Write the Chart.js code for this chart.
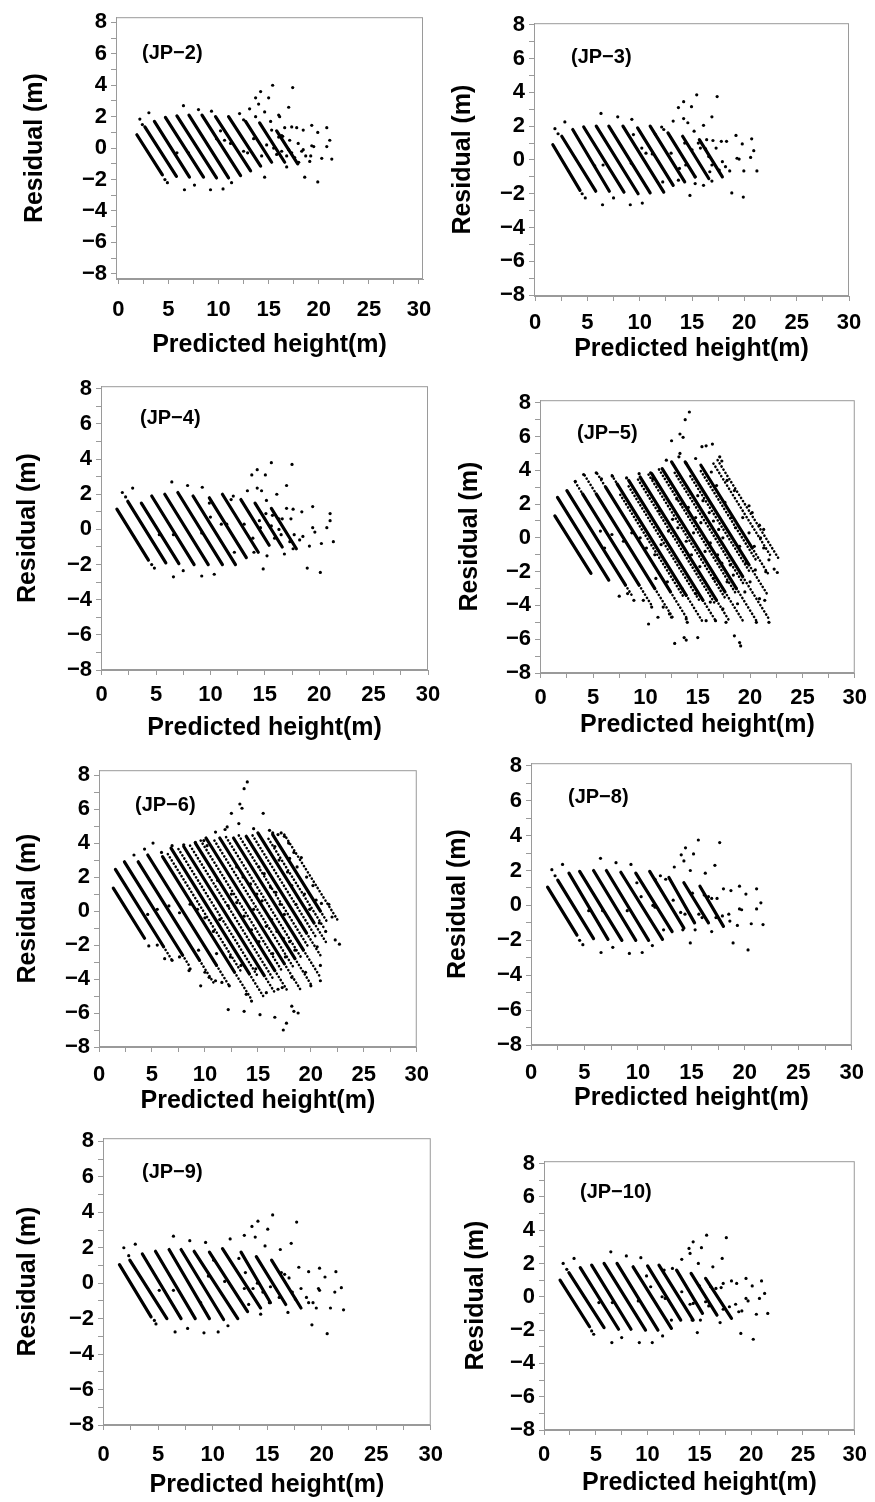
<!DOCTYPE html>
<html><head><meta charset="utf-8">
<script src="https://cdn.jsdelivr.net/npm/chart.js@4.4.1/dist/chart.umd.min.js"></script>
<style>
html,body{margin:0;padding:0;background:#fff;width:875px;height:1502px;overflow:hidden;}
canvas{position:absolute;}
</style></head><body>
<script>
// ---------- labels / ticks ----------
const PANEL_NAMES = ['(JP\u22122)','(JP\u22123)','(JP\u22124)','(JP\u22125)','(JP\u22126)','(JP\u22128)','(JP\u22129)','(JP\u221210)'];
const X_TICKS = [0,2.5,5,7.5,10,12.5,15,17.5,20,22.5,25,27.5,30];
const Y_TICKS = [-8,-7,-6,-5,-4,-3,-2,-1,0,1,2,3,4,5,6,7,8];
const X_TITLE = 'Predicted height(m)';
const Y_TITLE = 'Residual (m)';

// ---------- data: stripes [x1,y1,x2,y2], dotted stripes, single points [x,y] ----------
const JP2_STRIPES = [[1.85,0.85,4.4,-1.7],[2.65,1.35,5.8,-1.8],[3.6,1.7,7.1,-1.85],[4.7,1.95,8.5,-1.85],[5.85,2.05,9.8,-1.9],[7.05,2.1,11.0,-1.9],[8.35,2.1,12.2,-1.75],[9.7,2.0,13.2,-1.45],[11.0,2.0,14.2,-1.15],[12.7,1.7,15.3,-0.9],[14.1,1.6,16.6,-0.9],[15.8,1.1,17.9,-1.0]];
const JP2_DOTTED = [];
const JP2_POINTS = [[4.65,-2.0],[4.9,-2.2],[2.15,1.85],[2.4,1.5],[3.05,2.25],[6.5,2.7],[8.0,2.45],[9.3,2.35],[12.1,2.2],[13.1,2.5],[13.7,3.2],[13.7,2.0],[14.0,2.8],[14.2,3.6],[15.0,3.2],[15.4,4.0],[14.6,2.3],[16.0,2.1],[16.1,2.0],[17.0,2.6],[17.4,3.85],[12.5,1.8],[15.2,1.7],[19.3,1.45],[20.8,1.3],[16.6,1.3],[17.3,1.35],[17.8,1.3],[18.45,1.15],[19.9,1.0],[21.1,0.5],[20.8,0.1],[19.3,0.15],[19.5,0.1],[18.45,-0.1],[19.1,-0.85],[20.3,-0.65],[21.3,-0.7],[18.6,-1.85],[19.9,-2.15],[14.6,-1.85],[16.8,-1.2],[6.6,-2.65],[7.6,-2.35],[9.2,-2.65],[10.45,-2.6],[11.3,-2.2],[5.85,-0.3],[7.0,-0.3],[9.8,0.6],[10.6,0.5],[10.2,1.1],[15.3,1.15],[16.3,0.8],[17.1,0.5],[17.95,0.3],[18.3,-0.2],[17.3,-0.3],[16.3,-0.2],[15.8,-0.4],[17.6,-0.6],[16.8,-0.5],[15.5,0.0],[14.8,0.2],[13.5,0.6],[12.9,-0.3],[14.3,-0.5],[16.0,0.7],[16.4,0.75],[17.0,-0.1],[18.0,-0.9],[18.7,-0.5],[19.2,-0.5],[11.2,0.3],[12.5,-0.2]];

const JP3_STRIPES = [[1.7,0.9,4.3,-1.8],[2.55,1.4,5.8,-1.85],[3.6,1.8,7.1,-1.85],[4.65,1.95,8.5,-1.9],[5.85,2.0,9.85,-2.0],[7.05,2.0,11.0,-1.95],[8.4,2.0,12.3,-1.9],[9.8,1.9,13.2,-1.5],[11.0,2.0,14.3,-1.3],[12.7,1.6,15.3,-1.0],[14.1,1.4,16.6,-1.1],[15.7,1.2,17.9,-1.0]];
const JP3_DOTTED = [];
const JP3_POINTS = [[15.45,3.85],[17.4,3.75],[14.2,3.45],[13.7,3.1],[14.95,3.15],[6.3,2.75],[7.9,2.55],[9.25,2.4],[2.85,2.25],[16.9,2.55],[13.2,2.3],[14.2,2.45],[14.6,2.2],[16.1,2.05],[12.1,1.95],[19.2,1.45],[20.7,1.25],[19.8,0.95],[15.6,1.0],[16.4,1.2],[17.0,1.15],[17.8,1.1],[18.3,1.1],[20.6,0.15],[20.9,0.55],[19.3,0.1],[19.5,0.05],[19.95,-0.65],[21.2,-0.65],[18.6,-0.65],[14.8,-2.1],[18.8,-1.95],[19.9,-2.2],[16.1,-1.5],[16.9,-1.25],[16.7,-0.7],[15.3,-1.0],[6.45,-2.65],[9.1,-2.65],[10.25,-2.55],[7.5,-2.25],[4.5,-2.0],[4.8,-2.25],[1.9,1.85],[2.2,1.55],[5.7,-0.35],[6.5,-0.3],[9.2,-0.2],[10.2,0.7],[10.6,0.4],[11.2,0.35],[13.0,0.4],[13.8,-0.5],[14.4,-0.3],[15.0,0.6],[15.8,0.7],[16.3,0.65],[17.3,0.7],[17.9,-0.1],[17.6,-0.6],[16.6,0.2],[16.9,-0.3],[18.2,-0.4],[12.2,-1.3],[13.7,-1.2],[15.3,-1.4],[11.5,1.5],[12.3,1.8],[9.4,1.5],[14.3,1.0],[15.2,1.7]];

const JP4_STRIPES = [[1.4,1.15,4.3,-1.75],[2.4,1.6,5.9,-1.9],[3.65,1.5,7.1,-1.95],[4.6,1.9,8.5,-2.0],[5.8,2.0,9.8,-2.0],[7.0,2.1,11.1,-2.0],[8.4,1.9,12.3,-2.0],[9.9,1.8,13.3,-1.6],[11.1,2.0,14.4,-1.3],[12.8,1.7,15.4,-0.9],[14.1,1.5,16.6,-1.0],[15.6,1.2,17.9,-1.1]];
const JP4_DOTTED = [];
const JP4_POINTS = [[15.6,3.8],[17.5,3.7],[14.3,3.4],[13.8,3.1],[15.05,3.1],[6.45,2.7],[7.9,2.5],[9.25,2.4],[2.85,2.35],[17.0,2.5],[13.4,2.2],[14.3,2.35],[14.7,2.2],[16.1,2.0],[1.9,2.1],[2.2,1.85],[12.1,1.9],[15.15,1.65],[19.4,1.3],[21.0,0.9],[18.4,1.0],[17.0,1.2],[17.6,1.15],[21.0,0.5],[20.7,0.1],[19.4,0.1],[19.6,-0.15],[20.2,-0.8],[21.3,-0.7],[19.1,-0.95],[16.8,-1.4],[18.9,-2.2],[20.1,-2.45],[14.85,-2.25],[15.2,-1.5],[6.6,-2.7],[9.2,-2.65],[10.35,-2.55],[7.5,-2.35],[4.85,-2.2],[4.6,-2.0],[5.3,-0.3],[6.6,-0.3],[9.2,-0.2],[9.9,1.5],[10.0,0.7],[11.0,0.3],[11.5,0.3],[13.1,0.3],[13.9,-0.5],[14.6,0.1],[15.1,0.9],[15.7,0.8],[16.3,0.6],[16.6,0.6],[17.4,0.6],[17.7,-0.3],[18.2,-0.6],[17.3,-0.7],[16.5,-0.3],[18.5,-0.4],[15.9,-0.5],[12.2,-1.3],[14.0,-1.3],[17.6,-1.1],[16.3,0.0],[15.6,0.2],[11.9,1.7],[14.5,0.5]];

const JP5_STRIPES = [[1.35,1.3,4.8,-2.1],[1.6,2.4,6.5,-2.5],[2.5,2.8,8.1,-2.8],[4.0,2.6,9.4,-2.8],[5.3,2.6,10.9,-3.0],[6.2,3.0,12.4,-3.2],[7.3,3.2,13.9,-3.4],[8.4,3.4,15.5,-3.7],[9.5,3.6,16.8,-3.7],[10.6,3.8,17.6,-3.2],[11.6,4.1,18.7,-3.0],[12.5,4.5,19.3,-2.3],[13.8,4.5,19.9,-1.6],[15.3,4.3,20.2,-0.6]];
const JP5_DOTTED = [[8.1,-2.8,8.8,-3.5],[9.4,-2.8,10.6,-4.0],[10.9,-3.0,12.6,-4.7],[12.4,-3.2,14.0,-4.8],[13.9,-3.4,15.5,-5.0],[15.5,-3.7,16.8,-5.0],[16.8,-3.7,18.1,-5.0],[17.6,-3.2,19.3,-4.9],[18.7,-3.0,20.7,-5.0],[19.3,-2.3,21.8,-4.8],[19.9,-1.6,21.6,-3.3],[20.2,-0.6,21.8,-2.2],[3.3,3.3,4.0,2.6],[4.2,3.7,5.3,2.6],[5.4,3.8,6.2,3.0],[6.8,3.7,7.3,3.2],[16.5,4.4,21.9,-1.0],[16.9,4.6,22.7,-1.2],[7.6,2.55,13.6,-3.45],[8.4,3.05,15.2,-3.75],[9.3,3.45,16.6,-3.85],[10.3,3.75,17.6,-3.55],[11.3,4.05,18.6,-3.25],[12.8,3.85,19.4,-2.75],[14.3,3.65,20.0,-2.05],[15.3,3.95,20.6,-1.35]];
const JP5_POINTS = [[14.2,7.45],[13.8,7.0],[13.3,6.15],[13.6,5.95],[12.5,5.75],[15.4,5.4],[15.8,5.45],[16.4,5.55],[13.3,5.0],[13.2,4.8],[13.9,4.4],[14.8,4.7],[17.1,4.8],[17.3,4.55],[3.3,3.35],[4.1,3.75],[5.3,3.85],[5.8,3.5],[6.85,3.65],[8.2,3.55],[9.4,3.8],[10.5,3.85],[10.7,3.5],[11.2,3.15],[12.0,4.6],[12.8,-6.25],[13.7,-5.9],[13.9,-6.05],[15.0,-5.9],[18.5,-5.8],[19.0,-6.2],[19.1,-6.4],[10.3,-5.1],[11.2,-4.7],[12.3,-4.5],[12.5,-4.7],[13.9,-4.8],[14.0,-5.0],[15.8,-4.9],[16.7,-4.9],[17.7,-5.0],[20.6,-5.0],[21.8,-5.0],[7.5,-3.45],[8.3,-3.3],[8.9,-3.7],[10.6,-4.1],[11.7,-4.1],[9.8,-3.7],[22.6,-2.05],[22.3,-1.85],[21.8,-1.3],[21.3,-0.6],[21.0,0.0],[21.3,0.5],[20.9,0.75],[20.2,1.5],[19.9,1.9],[21.5,-2.0],[20.5,-1.9],[19.6,-1.5],[13.0,2.3],[13.4,2.0],[14.1,1.8],[14.8,1.2],[15.3,0.9],[15.0,2.5],[15.5,2.2],[16.1,1.5],[16.5,1.0],[17.0,0.5],[17.4,0.0],[16.2,-0.3],[15.7,-0.8],[16.9,-1.0],[17.3,-1.5],[18.1,-1.6],[18.4,-2.2],[17.8,-2.6],[16.5,-2.4],[15.2,-1.7],[14.4,-1.0],[13.9,-0.2],[13.1,0.6],[12.2,0.4],[11.5,-0.4],[10.9,-1.0],[10.1,-0.6],[9.5,0.0],[8.7,0.3],[7.9,-0.2],[6.8,0.2],[5.7,0.4],[6.1,-0.6],[11.3,1.6],[12.6,1.1],[14.6,0.3],[18.6,0.6],[19.0,-0.5],[18.2,1.2],[17.6,2.1],[16.8,3.1],[16.3,3.9],[17.8,3.4],[18.5,2.8],[19.3,1.2],[19.9,0.3],[20.4,-0.5],[20.0,-2.6],[20.9,-3.6],[21.4,-3.7],[19.5,-3.2],[18.8,-3.9],[17.4,-4.2],[16.2,-3.8],[14.8,-3.3],[13.5,-3.0],[12.1,-2.6],[11.0,-2.4]];

const JP6_STRIPES = [[1.35,1.35,4.3,-1.6],[1.55,2.45,6.1,-2.1],[2.4,2.9,7.9,-2.6],[3.7,2.9,9.5,-2.9],[4.6,3.3,11.1,-3.2],[6.0,3.2,12.8,-3.6],[6.8,3.7,14.2,-3.7],[8.0,3.8,15.6,-3.8],[9.1,4.0,16.6,-3.5],[10.1,4.3,17.5,-3.1],[11.4,4.3,18.5,-2.8],[12.7,4.3,19.3,-2.3],[13.9,4.4,19.6,-1.3],[15.0,4.6,20.3,-0.7],[16.4,4.5,20.9,0.0]];
const JP6_DOTTED = [[6.1,-2.1,6.9,-2.9],[7.9,-2.6,8.6,-3.3],[9.5,-2.9,10.9,-4.3],[11.1,-3.2,12.3,-4.4],[12.8,-3.6,14.3,-5.1],[14.2,-3.7,15.5,-5.0],[15.6,-3.8,16.6,-4.8],[16.6,-3.5,17.8,-4.7],[17.5,-3.1,19.0,-4.6],[18.5,-2.8,20.0,-4.3],[19.3,-2.3,20.9,-3.9],[19.6,-1.3,21.0,-2.7],[20.3,-0.7,21.5,-1.9],[20.9,0.0,21.6,-0.7],[17.5,4.5,22.6,-0.6],[6.5,3.35,13.5,-3.65],[7.5,3.65,15.0,-3.85],[8.6,3.85,16.4,-3.95],[9.6,4.15,17.3,-3.55],[10.9,4.15,18.3,-3.25],[12.0,4.35,19.2,-2.85],[13.2,4.45,19.8,-2.15],[14.5,4.45,20.5,-1.55],[16.0,4.25,21.3,-1.05]];
const JP6_POINTS = [[14.0,7.6],[13.7,7.2],[13.3,6.3],[13.5,6.05],[12.5,5.75],[15.5,5.75],[13.2,5.15],[12.1,4.95],[14.6,4.85],[16.1,4.75],[16.4,4.6],[16.9,4.5],[17.2,4.6],[17.5,4.4],[4.3,3.65],[5.1,4.0],[5.9,3.45],[3.3,3.3],[6.9,3.85],[9.9,4.15],[10.2,3.85],[11.0,4.65],[11.9,4.8],[8.0,3.9],[9.1,4.05],[9.6,-4.4],[8.5,-3.5],[8.6,-3.4],[6.9,-2.9],[4.7,-2.05],[12.3,-4.4],[12.2,-5.8],[13.7,-5.9],[13.9,-4.9],[15.2,-6.1],[16.6,-6.25],[17.4,-7.0],[17.7,-6.6],[18.4,-5.9],[18.8,-6.0],[18.2,-5.6],[20.0,-4.4],[20.9,-4.1],[20.9,-3.2],[11.0,-4.1],[11.6,-4.2],[10.0,-3.6],[10.4,-3.9],[14.4,-5.3],[15.8,-4.8],[16.9,-4.6],[17.3,-4.5],[19.5,-3.6],[18.2,-3.9],[6.2,-2.8],[5.5,-2.0],[7.6,-2.7],[22.7,-1.95],[22.3,-1.7],[22.0,-0.35],[21.7,0.4],[21.0,0.45],[20.5,0.65],[20.2,1.5],[19.6,2.0],[19.1,3.15],[18.4,3.45],[17.9,4.0],[20.8,-0.7],[21.4,-1.2],[20.6,-2.1],[13.0,2.6],[13.6,2.0],[14.3,1.6],[14.9,1.0],[15.4,0.6],[15.1,2.6],[15.6,2.2],[16.2,1.4],[16.7,1.1],[17.1,0.4],[17.5,-0.2],[16.3,-0.5],[15.8,-0.9],[16.8,-1.2],[17.4,-1.6],[18.0,-1.8],[18.5,-2.3],[17.6,-2.7],[16.4,-2.5],[15.1,-1.8],[14.4,-1.1],[13.7,-0.3],[13.0,0.5],[12.2,0.3],[11.4,-0.5],[10.8,-1.2],[10.0,-0.4],[9.3,0.1],[8.6,0.4],[7.6,-0.1],[6.6,0.3],[5.5,0.1],[4.6,-0.2],[11.2,1.8],[12.5,1.0],[14.6,0.1],[18.6,0.4],[19.0,-0.7],[18.2,1.5],[17.8,2.3],[17.0,3.0],[16.6,3.8],[18.0,3.1],[18.7,2.6],[19.4,1.0],[19.9,0.1],[12.4,-2.7],[13.4,-3.2],[14.8,-3.4],[11.1,-2.5],[9.4,-2.3]];

const JP8_STRIPES = [[1.55,1.05,4.3,-1.7],[2.5,1.45,5.85,-1.9],[3.55,1.85,7.2,-1.95],[4.55,1.95,8.5,-2.0],[5.85,2.0,9.8,-2.0],[7.05,2.0,11.0,-2.0],[8.4,1.9,12.3,-1.95],[9.8,1.85,13.2,-1.5],[11.1,1.95,14.3,-1.3],[12.9,1.6,15.3,-1.0],[14.3,1.3,16.6,-1.0],[15.8,1.1,18.0,-1.2]];
const JP8_DOTTED = [];
const JP8_POINTS = [[15.65,3.75],[17.65,3.6],[14.45,3.3],[14.05,2.9],[15.2,2.95],[6.5,2.7],[7.95,2.45],[9.35,2.35],[2.95,2.35],[17.2,2.3],[13.4,2.2],[14.3,2.55],[16.3,1.85],[1.95,2.05],[2.25,1.7],[14.9,2.0],[12.6,1.5],[19.5,1.1],[18.0,0.95],[18.7,0.85],[21.1,0.95],[20.1,0.65],[21.5,0.15],[21.1,-0.2],[19.5,-0.2],[19.7,-0.25],[20.6,-1.05],[21.7,-1.1],[19.3,-1.15],[16.9,-1.5],[18.9,-2.15],[20.3,-2.55],[14.9,-2.15],[15.35,-1.4],[6.55,-2.7],[9.2,-2.75],[10.4,-2.7],[7.65,-2.4],[11.35,-2.3],[4.55,-2.0],[4.85,-2.25],[5.4,-0.3],[6.7,-0.3],[9.0,-0.3],[9.9,1.3],[10.3,0.5],[11.4,0.0],[11.6,-0.1],[13.3,0.3],[14.0,-0.4],[14.4,-0.5],[15.1,0.7],[16.2,0.6],[16.6,0.5],[16.9,0.4],[17.4,0.4],[17.3,-0.7],[17.9,-0.6],[18.5,-0.5],[18.6,-0.9],[16.0,-0.7],[12.4,-1.4],[14.2,-1.4],[15.7,-0.5],[11.6,1.5],[12.1,1.7]];

const JP9_STRIPES = [[1.45,1.05,4.35,-1.9],[2.4,1.3,5.8,-2.0],[3.55,1.65,7.1,-2.0],[4.75,1.8,8.4,-2.0],[6.0,1.9,9.7,-2.0],[7.1,1.9,11.0,-2.05],[8.3,1.8,12.3,-2.0],[9.7,1.75,13.2,-1.6],[10.9,1.95,14.4,-1.4],[12.6,1.75,15.3,-1.1],[14.0,1.5,16.7,-1.2],[15.4,1.3,18.1,-1.4]];
const JP9_DOTTED = [];
const JP9_POINTS = [[15.5,3.85],[17.7,3.45],[14.15,3.5],[13.6,3.2],[15.05,3.05],[6.4,2.65],[7.9,2.4],[9.35,2.3],[2.9,2.2],[12.9,2.7],[11.6,2.5],[13.9,2.6],[17.2,2.25],[1.85,2.0],[2.3,1.55],[14.8,2.1],[16.2,1.9],[12.4,1.4],[17.9,0.9],[18.8,0.65],[19.8,0.85],[21.3,0.65],[20.3,0.35],[19.7,-0.3],[19.8,-0.4],[21.8,-0.25],[21.2,-0.5],[22.0,-1.5],[20.8,-1.4],[19.5,-1.4],[19.1,-2.35],[20.5,-2.85],[14.4,-1.75],[16.9,-1.65],[15.2,-1.1],[6.55,-2.75],[9.2,-2.8],[10.5,-2.75],[7.7,-2.55],[11.4,-2.4],[4.65,-2.1],[4.8,-2.3],[5.1,-0.4],[6.4,-0.4],[8.9,-1.1],[9.6,0.4],[10.1,1.3],[11.1,0.1],[13.0,0.6],[13.7,-0.3],[14.1,0.0],[14.6,-0.5],[15.3,-0.2],[16.3,0.6],[16.6,0.5],[17.0,0.3],[17.3,-0.5],[17.6,-0.9],[18.6,-0.8],[18.8,-1.1],[19.2,-1.1],[18.1,-0.3],[16.1,-0.8],[13.3,-1.2],[12.9,-0.3]];

const JP10_STRIPES = [[1.55,1.0,4.4,-1.8],[2.4,1.45,5.8,-1.85],[3.5,1.75,7.2,-1.95],[4.6,1.9,8.4,-1.95],[5.8,2.0,9.8,-2.0],[7.05,2.0,11.0,-2.0],[8.6,1.8,12.3,-1.9],[10.0,1.85,13.2,-1.4],[11.1,1.9,14.4,-1.4],[12.8,1.6,15.3,-1.0],[14.2,1.4,16.7,-1.1],[15.6,1.1,18.1,-1.3]];
const JP10_DOTTED = [];
const JP10_POINTS = [[15.7,3.7],[17.6,3.55],[14.4,3.3],[14.0,2.9],[15.2,2.95],[6.45,2.7],[7.95,2.45],[9.35,2.35],[2.9,2.3],[13.3,2.25],[17.2,2.3],[14.1,2.6],[1.85,2.0],[2.2,1.65],[16.3,1.8],[12.4,1.7],[14.9,2.0],[19.5,1.1],[21.0,0.95],[18.1,0.95],[18.6,0.8],[20.1,0.65],[21.3,0.2],[20.8,-0.1],[19.5,-0.1],[19.7,-0.25],[20.5,-1.05],[21.6,-1.0],[19.1,-0.85],[17.0,-1.55],[19.0,-2.2],[20.2,-2.55],[14.8,-2.15],[15.1,-1.4],[6.55,-2.75],[9.2,-2.75],[10.45,-2.75],[7.5,-2.45],[11.45,-2.35],[4.6,-2.05],[4.8,-2.25],[5.3,-0.35],[6.6,-0.35],[9.1,-0.25],[9.9,1.25],[10.3,0.6],[11.4,0.0],[11.7,-0.1],[13.3,0.3],[14.1,-0.45],[14.4,-0.4],[15.0,0.65],[16.1,0.6],[16.6,0.5],[17.1,0.55],[17.3,0.8],[17.3,-0.75],[17.9,-0.6],[18.5,-0.45],[18.8,-0.9],[15.9,-0.55],[12.3,-1.4],[14.3,-1.4],[15.6,-0.3],[11.6,1.6]];

const PANEL_DATA = [
  [JP2_STRIPES, JP2_DOTTED, JP2_POINTS],
  [JP3_STRIPES, JP3_DOTTED, JP3_POINTS],
  [JP4_STRIPES, JP4_DOTTED, JP4_POINTS],
  [JP5_STRIPES, JP5_DOTTED, JP5_POINTS],
  [JP6_STRIPES, JP6_DOTTED, JP6_POINTS],
  [JP8_STRIPES, JP8_DOTTED, JP8_POINTS],
  [JP9_STRIPES, JP9_DOTTED, JP9_POINTS],
  [JP10_STRIPES, JP10_DOTTED, JP10_POINTS]
];

// ---------- layout (page positions of each plot box) ----------
const LAYOUT = [
  {box:[116,14,423,279],   resX:35,  xTitleY:345,  tickPad:13, lab:[26,36], xr:[-0.23,30.4], yr:[-8.33,8.33]},
  {box:[534,20,849,296],   resX:463, xTitleY:349,  tickPad:9,  lab:[37,34], xr:[-0.1,30],    yr:[-8.05,8.09]},
  {box:[101,383,428,670],  resX:28,  xTitleY:728,  tickPad:7,  lab:[39,32], xr:[-0.06,30],   yr:[-8,8.15]},
  {box:[540,397,856,673],  resX:470, xTitleY:725,  tickPad:7,  lab:[37,33], xr:[-0.07,30],   yr:[-8,8.15]},
  {box:[99,767,417,1047],  resX:28,  xTitleY:1101, tickPad:10, lab:[36,35], xr:[0,30],       yr:[-8,8.29]},
  {box:[531,760,855,1045], resX:458, xTitleY:1098, tickPad:10, lab:[37,34], xr:[0,30],       yr:[-8,8.15]},
  {box:[103,1135,433,1425],resX:28,  xTitleY:1485, tickPad:12, lab:[39,34], xr:[-0.06,30],   yr:[-8,8.18]},
  {box:[544,1158,855,1430],resX:476, xTitleY:1483, tickPad:7,  lab:[36,31], xr:[0,30],       yr:[-8,8.14]}
];

const FAMILY = '"Liberation Sans", Arial, Helvetica, sans-serif';
const AXIS_GREY = '#9a9a9a';

const framePlugin = {
  id: 'frame',
  beforeDatasetsDraw(chart) {
    const {ctx, chartArea: a} = chart;
    ctx.save();
    ctx.strokeStyle = AXIS_GREY;
    ctx.lineWidth = 1;
    ctx.strokeRect(a.left + 0.5, a.top + 0.5, a.right - a.left - 1, a.bottom - a.top - 1);
    ctx.restore();
  }
};
const panelLabelPlugin = {
  id: 'panelLabel',
  afterDraw(chart, args, opts) {
    const {ctx, chartArea: a} = chart;
    ctx.save();
    ctx.font = 'bold 20px ' + FAMILY;
    ctx.fillStyle = '#000';
    ctx.textAlign = 'left';
    ctx.textBaseline = 'middle';
    ctx.fillText(opts.text, a.left + opts.dx, a.top + opts.dy);
    ctx.restore();
  }
};

function buildDatasets(stripes, dotted, points) {
  const ds = [];
  dotted.forEach(s => ds.push({
    data: [{x: s[0], y: s[1]}, {x: s[2], y: s[3]}],
    showLine: true, borderColor: '#000', borderWidth: 2.6,
    borderDash: [0.1, 3.6], borderCapStyle: 'round',
    pointRadius: 0, fill: false
  }));
  stripes.forEach(s => ds.push({
    data: [{x: s[0], y: s[1]}, {x: s[2], y: s[3]}],
    showLine: true, borderColor: '#000', borderWidth: 3.2,
    borderCapStyle: 'round', pointRadius: 0, fill: false
  }));
  ds.push({
    data: points.map(p => ({x: p[0], y: p[1]})),
    showLine: false, pointRadius: 1.6, pointBorderWidth: 0,
    pointBackgroundColor: '#000', borderColor: '#000', backgroundColor: '#000'
  });
  return ds;
}

LAYOUT.forEach((L, i) => {
  const [bl, bt, br, bb] = L.box;
  const cl = L.resX - 15;
  const ct = bt - 14;
  const padR = Math.min(22, 874 - br);
  const cr = br + padR;
  const cb = L.xTitleY + 15;
  const cv = document.createElement('canvas');
  cv.width = cr - cl; cv.height = cb - ct;
  cv.style.left = cl + 'px'; cv.style.top = ct + 'px';
  cv.style.width = (cr - cl) + 'px'; cv.style.height = (cb - ct) + 'px';
  document.body.appendChild(cv);
  const [stripes, dotted, points] = PANEL_DATA[i];
  new Chart(cv, {
    type: 'scatter',
    data: {datasets: buildDatasets(stripes, dotted, points)},
    options: {
      responsive: false, animation: false, devicePixelRatio: 1,
      layout: {padding: {top: bt - ct, right: padR, left: 0, bottom: 0}},
      plugins: {
        legend: {display: false}, tooltip: {enabled: false},
        panelLabel: {text: PANEL_NAMES[i], dx: L.lab[0], dy: L.lab[1]}
      },
      scales: {
        x: {
          type: 'linear', min: L.xr[0], max: L.xr[1],
          afterBuildTicks: ax => { ax.ticks = X_TICKS.map(v => ({value: v})); },
          afterFit: s => { s.height = cb - bb; },
          ticks: {
            autoSkip: false, maxRotation: 0, padding: L.tickPad, color: '#000',
            font: {family: FAMILY, size: 22, weight: 'bold'},
            callback: v => (v % 5 === 0 ? String(v) : '')
          },
          grid: {display: true, drawOnChartArea: false, drawTicks: true, tickLength: 5, color: AXIS_GREY},
          border: {display: true, color: AXIS_GREY, width: 1},
          title: {display: true, text: X_TITLE, color: '#000', padding: 0,
                  font: {family: FAMILY, size: 25, weight: 'bold'}}
        },
        y: {
          type: 'linear', min: L.yr[0], max: L.yr[1],
          afterBuildTicks: ax => { ax.ticks = Y_TICKS.map(v => ({value: v})); },
          afterFit: s => { s.width = bl - cl; },
          ticks: {
            autoSkip: false, padding: 4, color: '#000',
            font: {family: FAMILY, size: 22, weight: 'bold'},
            callback: v => (v % 2 === 0 ? (v < 0 ? '\u2212' + (-v) : String(v)) : '')
          },
          grid: {display: true, drawOnChartArea: false, drawTicks: true, tickLength: 5, color: AXIS_GREY},
          border: {display: true, color: AXIS_GREY, width: 1},
          title: {display: true, text: Y_TITLE, color: '#000', padding: 0,
                  font: {family: FAMILY, size: 25, weight: 'bold'}}
        }
      }
    },
    plugins: [framePlugin, panelLabelPlugin]
  });
});
</script>
</body></html>
